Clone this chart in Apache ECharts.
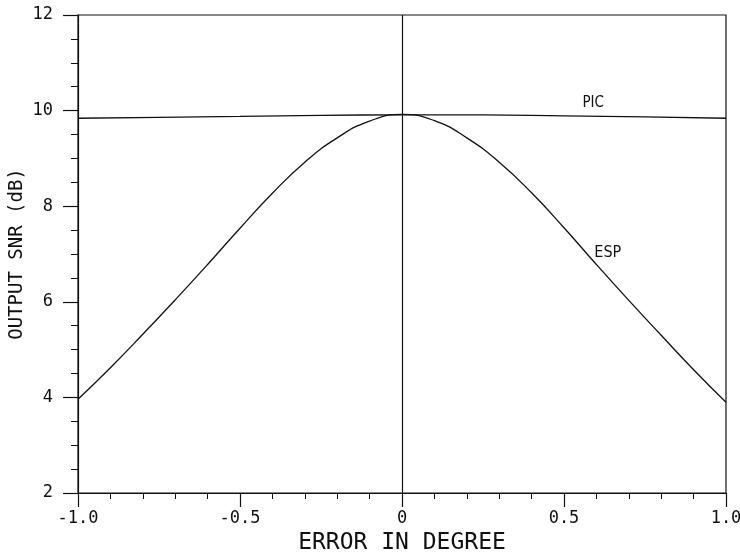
<!DOCTYPE html>
<html>
<head>
<meta charset="utf-8">
<script src="https://cdn.jsdelivr.net/npm/echarts@6/dist/echarts.min.js"></script>
<style>html,body{margin:0;padding:0;background:#fff}#chart{width:740px;height:554px}</style>
</head>
<body>
<div id="chart"></div>
<script>
// Data
const errorDeg = [-1.0,-0.9,-0.8,-0.7,-0.6,-0.5,-0.4,-0.3,-0.2,-0.1,0.0,0.1,0.2,0.3,0.4,0.5,0.6,0.7,0.8,0.9,1.0];
const espSNR   = [3.96,4.62,5.32,6.04,6.78,7.54,8.27,8.92,9.43,9.78,9.92,9.79,9.43,8.92,8.28,7.55,6.78,6.03,5.30,4.58,3.90];
const picDeg   = [-1.0,-0.75,-0.5,-0.25,0.0,0.25,0.5,0.75,1.0];
const picSNR   = [9.84,9.86,9.88,9.90,9.91,9.91,9.89,9.87,9.84];
const xTickValues = [-1.0,-0.5,0,0.5,1.0];
const xTickLabels = ['-1.0','-0.5','0','0.5','1.0'];
const yTickValues = [2,4,6,8,10,12];
const yTickLabels = ['2','4','6','8','10','12'];
const picLabelPos = [0.59, 10.16];
const espLabelPos = [0.635, 7.02];

const mono = "'DejaVu Sans Mono', 'Liberation Mono', monospace";
const narrow = "'Liberation Sans Narrow', 'DejaVu Sans Condensed', 'DejaVu Sans', sans-serif";
const ink = '#111';

const chart = echarts.init(document.getElementById('chart'), null, {renderer: 'canvas'});
chart.setOption({
  animation: false,
  backgroundColor: '#fff',
  grid: {left: 78, right: 14, top: 15, bottom: 61, containLabel: false, outerBoundsMode: 'none',
         show: true, borderColor: ink, borderWidth: 1.2},
  xAxis: {
    type: 'value', min: -1, max: 1, interval: 0.5,
    name: 'ERROR IN DEGREE', nameLocation: 'middle', nameGap: 39, nameMoveOverlap: false,
    nameTextStyle: {fontFamily: mono, fontSize: 23, color: ink},
    axisLine: {show: true, onZero: false, lineStyle: {color: ink, width: 1.2}},
    axisTick: {show: true, inside: false, length: 14, lineStyle: {color: ink, width: 1.2}},
    minorTick: {show: true, splitNumber: 5, length: 6, lineStyle: {color: ink, width: 1}},
    splitLine: {show: false},
    axisLabel: {margin: 17, fontFamily: mono, fontSize: 17, color: ink,
      formatter: v => { const i = xTickValues.findIndex(t => Math.abs(t - v) < 1e-9); return i >= 0 ? xTickLabels[i] : ''; }}
  },
  yAxis: {
    type: 'value', min: 2, max: 12, interval: 2,
    name: 'OUTPUT SNR (dB)', nameLocation: 'middle', nameGap: 51, nameRotate: 90, nameMoveOverlap: false,
    nameTextStyle: {fontFamily: mono, fontSize: 19, color: ink},
    axisLine: {show: true, onZero: false, lineStyle: {color: ink, width: 1.2}},
    axisTick: {show: true, inside: false, length: 15, lineStyle: {color: ink, width: 1.2}},
    minorTick: {show: true, splitNumber: 4, length: 7, lineStyle: {color: ink, width: 1}},
    splitLine: {show: false},
    axisLabel: {margin: 25, fontFamily: mono, fontSize: 17, color: ink,
      formatter: v => { const i = yTickValues.findIndex(t => Math.abs(t - v) < 1e-9); return i >= 0 ? yTickLabels[i] : ''; }}
  },
  series: [
    {
      name: 'ESP', type: 'line', smooth: true, symbol: 'none',
      data: errorDeg.map((x, i) => [x, espSNR[i]]),
      lineStyle: {color: ink, width: 1.3},
      markLine: {
        silent: true, symbol: 'none', label: {show: false},
        lineStyle: {color: ink, width: 1.2, type: 'solid'},
        data: [{xAxis: 0}]
      },
      markPoint: {
        silent: true, symbol: 'circle', symbolSize: 1, itemStyle: {color: 'rgba(0,0,0,0)'},
        label: {show: true, formatter: 'ESP', fontFamily: narrow, fontSize: 16, color: ink, position: 'inside'},
        data: [{coord: espLabelPos}]
      }
    },
    {
      name: 'PIC', type: 'line', smooth: true, symbol: 'none',
      data: picDeg.map((x, i) => [x, picSNR[i]]),
      lineStyle: {color: ink, width: 1.3},
      markPoint: {
        silent: true, symbol: 'circle', symbolSize: 1, itemStyle: {color: 'rgba(0,0,0,0)'},
        label: {show: true, formatter: 'PIC', fontFamily: narrow, fontSize: 15, color: ink, position: 'inside'},
        data: [{coord: picLabelPos}]
      }
    }
  ]
});
</script>
</body>
</html>
